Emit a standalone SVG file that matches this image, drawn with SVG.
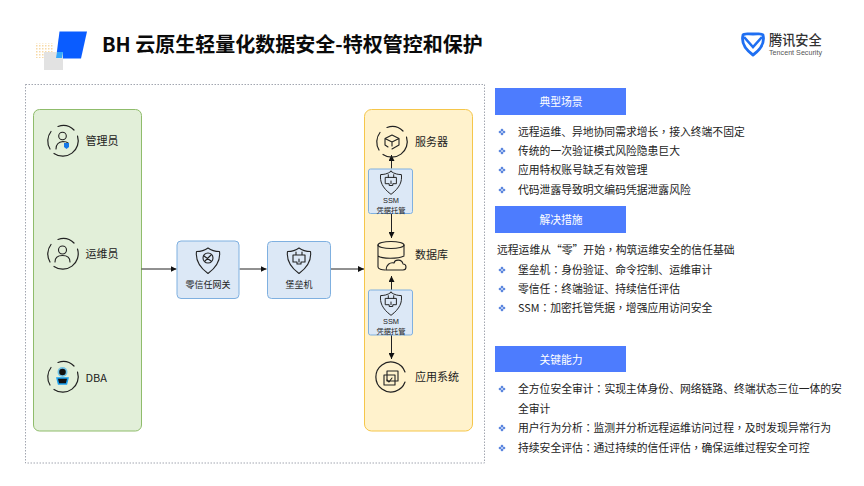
<svg xmlns="http://www.w3.org/2000/svg" width="864" height="486" viewBox="0 0 864 486">
<style>
text{font-family:"Noto Sans CJK SC","Noto Sans",sans-serif;fill:#222}
.n{font-size:11px;fill:#222}
.l{font-size:10.8px;fill:#222}
.p{font-family:"Noto Sans CJK TC",sans-serif}
.h{font-size:10.8px;fill:#fff;text-anchor:middle}
.s{font-size:7.300px;text-anchor:middle;fill:#222}
.sl{font-family:"Liberation Sans",sans-serif;font-size:7.400px;text-anchor:middle;fill:#222}
.b{font-size:9px;text-anchor:middle;fill:#222}
.hd{fill:#4d7cfe}
.box{fill:#dce8f6;stroke:#7fb0e0;stroke-width:1}
.ic{fill:none;stroke:#222;stroke-width:1.1;stroke-linecap:round;stroke-linejoin:round}
.ri{fill:none;stroke:#222;stroke-width:1.2;stroke-linecap:round}
.cn{fill:none;stroke:#222;stroke-width:1}
.bl{fill:#4d7cdc}
</style>
<defs>
<marker id="a" markerWidth="7" markerHeight="6" refX="6" refY="3" orient="auto" markerUnits="userSpaceOnUse"><path d="M0 0L6 3L0 6Z" fill="#111"/></marker>
<pattern id="dots" width="3" height="3" patternUnits="userSpaceOnUse"><rect width="1.500" height="1.500" fill="#f7d9a6"/></pattern>
<g id="shield"><path class="ic" d="M0 -14C4 -11 8 -10.500 11.500 -10.500C12.500 -3 10 4 0 11.500C-10 4 -12.500 -3 -11.500 -10.500C-8 -10.500 -4 -11 0 -14Z"/></g>
<g id="plug"><path class="ic" d="M-6 -4H6V3H2V5H-2V3H-6ZM-3 -4V-7M3 -4V-7M0 0V3"/></g>
<g id="dm"><path class="bl" d="M0 -3.500L1.600 -1.900L0 -0.300L-1.600 -1.900ZM-2 -1.500L-0.400 0L-2 1.600L-3.600 0ZM2 -1.500L3.600 0L2 1.600L0.400 0ZM0 0.300L1.600 1.900L0 3.500L-1.600 1.900Z"/></g>
<path id="ring" class="ri" d="M-5 -14.500A15.500 15.500 0 0 1 11 -11M14.500 -5A15.500 15.500 0 0 1 -9 12.500M-13 8A15.500 15.500 0 0 1 -12 -9.500"/>
</defs>

<g id="logo-left">
<rect x="36" y="43" width="17" height="15" fill="url(#dots)"/>
<path d="M59.500 31.500H87L81 58.500H56Z" fill="#0a5cff"/>
<rect x="44" y="52" width="19" height="18" fill="#e2e2e2"/>
<path d="M57 52H63L62 58H56Z" fill="#35a8fb"/>
</g>
<text id="title" x="102" y="52" style="font-size:20px;font-weight:700;fill:#0a0a0a">BH 云原生轻量化数据安全-特权管控和保护</text>

<g id="logo-right">
<path d="M753 34C747 34 744 33 743 35C741 43 746 50 753 55C760 50 765 43 763 35C762 33 759 34 753 34Z" fill="none" stroke="#1f6ff2" stroke-width="2.800" stroke-linejoin="round"/>
<path d="M744 37L753 47L762 37" fill="none" stroke="#1f6ff2" stroke-width="2.600"/>
<text x="769" y="44.500" style="font-size:13.200px;font-weight:500;fill:#333">腾讯安全</text>
<text x="769" y="55" textLength="53" lengthAdjust="spacingAndGlyphs" style="font-family:'Liberation Sans',sans-serif;font-size:7.400px;fill:#555">Tencent Security</text>
</g>

<rect id="frame" x="25.500" y="84.500" width="459" height="378.500" fill="#fff" stroke="#8a8f9c" stroke-width="0.800" stroke-dasharray="1.500 1.500"/>

<g id="actors">
<rect x="33.500" y="109.500" width="108" height="321.500" rx="6" fill="#e2efd9" stroke="#8fbc6b" stroke-width="1"/>
</g>
<g id="systems">
<rect x="364.500" y="109.500" width="108" height="321.500" rx="7" fill="#fff2cc" stroke="#f5c64a" stroke-width="1"/>
</g>

<g id="connectors">
<path class="cn" d="M141.500 269H176.500" marker-end="url(#a)"/>
<path class="cn" d="M239.500 269H266.500" marker-end="url(#a)"/>
<path class="cn" d="M330.500 269H364" marker-end="url(#a)"/>
<path class="cn" d="M391.500 168.500V155" marker-end="url(#a)"/>
<path class="cn" d="M391.500 214V238" marker-end="url(#a)"/>
<path class="cn" d="M391.500 290V276" marker-end="url(#a)"/>
<path class="cn" d="M391.500 335V359" marker-end="url(#a)"/>
</g>

<g id="admin">
<use href="#ring" x="63" y="141"/>
<circle class="ic" cx="62.500" cy="136" r="3.800"/>
<path class="ic" d="M56 149C56 144 58 142 63 141.500C66 141.500 67 142 68 143"/>
<path d="M64 143H69V147L66.500 149L64 147Z" fill="#1478e8"/>
<text class="n" x="85.500" y="145">管理员</text>
</g>
<g id="ops">
<use href="#ring" x="63" y="254"/>
<circle class="ic" cx="62.500" cy="250" r="4"/>
<path class="ic" d="M55 262C55 257 58 255.500 62.500 255.500C67 255.500 70 257 70 262"/>
<text class="n" x="85.500" y="258">运维员</text>
</g>
<g id="dba">
<use href="#ring" x="63" y="377"/>
<circle cx="62.500" cy="372" r="5" fill="#19a0f0" opacity=".55"/>
<circle cx="62.500" cy="372" r="3.300" fill="#111"/>
<path d="M57 378H68L66.500 384H58.500Z" fill="#111" stroke="#19a0f0" stroke-width="1.500"/>
<text class="n" x="85.500" y="382">DBA</text>
</g>

<g id="ztna">
<rect class="box" x="177" y="241" width="62" height="57.500" rx="4"/>
<use href="#shield" x="208" y="262"/>
<circle class="ic" cx="208" cy="258" r="5"/>
<path class="ic" d="M204 256L211 261M205 261L211 255"/>
<text class="b" x="208" y="287.500">零信任网关</text>
</g>
<g id="bastion">
<rect class="box" x="267.500" y="241.500" width="63" height="57" rx="4"/>
<use href="#shield" x="299" y="262"/>
<use href="#plug" x="299" y="259"/>
<text class="b" x="299" y="287.500">堡垒机</text>
</g>

<g id="server">
<use href="#ring" x="392" y="142"/>
<path class="ic" d="M392 135L399 138.500V145L392 149M392 135L385 138.500V145L388 147M385 138.500L392 142L399 138.500M392 142V146"/>
<text class="n" x="415" y="146">服务器</text>
</g>
<g id="ssm1">
<rect class="box" x="368.500" y="169" width="44" height="44.500" rx="2"/>
<use href="#shield" transform="translate(391 184) scale(.9)"/>
<use href="#plug" transform="translate(391 181) scale(.9)"/>
<text class="sl" x="391" y="203">SSM</text>
<text class="s" x="391" y="212.800">凭据托管</text>
</g>
<g id="db">
<ellipse class="ic" cx="391" cy="245" rx="13" ry="3.500"/>
<path class="ic" d="M378 245V267C378 269 382 270 385 270M404 245V255M378 256C382 259 398 259 404 256"/>
<path class="ic" d="M386 270H403C407 270 407 264 403 264C402 259 395 259 394 263C390 262 386 265 386 270Z" fill="#fff2cc"/>
<text class="n" x="415" y="258.500">数据库</text>
</g>
<g id="ssm2">
<rect class="box" x="368.500" y="290" width="44" height="45" rx="2"/>
<use href="#shield" transform="translate(391 305) scale(.9)"/>
<use href="#plug" transform="translate(391 302) scale(.9)"/>
<text class="sl" x="391" y="324">SSM</text>
<text class="s" x="391" y="333.800">凭据托管</text>
</g>
<g id="app">
<path class="ri" d="M405 372A15 15 0 1 0 405 382"/>
<rect class="ic" x="387" y="371" width="11" height="10"/>
<rect class="ic" x="384" y="375" width="11" height="10" fill="#fff2cc"/>
<path class="ic" d="M387 380L389 382L392 378"/>
<text class="n" x="415" y="381">应用系统</text>
</g>

<g id="panel-scenes">
<rect class="hd" x="495" y="88" width="131" height="27"/>
<text class="h" x="561" y="105.500">典型场景</text>
<use href="#dm" x="502" y="132"/><text class="l" x="518" y="136">远程运维、异地协同需求增长<tspan class="p">，</tspan>接入终端不固定</text>
<use href="#dm" x="502" y="151"/><text class="l" x="518" y="155">传统的一次验证模式风险隐患巨大</text>
<use href="#dm" x="502" y="170"/><text class="l" x="518" y="174">应用特权账号缺乏有效管理</text>
<use href="#dm" x="502" y="190"/><text class="l" x="518" y="194">代码泄露导致明文编码凭据泄露风险</text>
</g>
<g id="panel-measures">
<rect class="hd" x="495" y="206" width="131" height="27"/>
<text class="h" x="561" y="224">解决措施</text>
<text class="l" x="497" y="254">远程运维从“零”开始<tspan class="p">，</tspan>构筑运维安全的信任基础</text>
<use href="#dm" x="502" y="270"/><text class="l" x="518" y="274">堡垒机<tspan class="p">：</tspan>身份验证、命令控制、运维审计</text>
<use href="#dm" x="502" y="289"/><text class="l" x="518" y="293">零信任<tspan class="p">：</tspan>终端验证、持续信任评估</text>
<use href="#dm" x="502" y="308"/><text class="l" x="518" y="312">SSM<tspan class="p">：</tspan>加密托管凭据<tspan class="p">，</tspan>增强应用访问安全</text>
</g>
<g id="panel-capabilities">
<rect class="hd" x="495" y="346" width="131" height="26"/>
<text class="h" x="561" y="364">关键能力</text>
<use href="#dm" x="502" y="389"/><text class="l" x="518" y="393">全方位安全审计<tspan class="p">：</tspan>实现主体身份、网络链路、终端状态三位一体的安</text>
<text class="l" x="518" y="413">全审计</text>
<use href="#dm" x="502" y="428"/><text class="l" x="518" y="432">用户行为分析<tspan class="p">：</tspan>监测并分析远程运维访问过程<tspan class="p">，</tspan>及时发现异常行为</text>
<use href="#dm" x="502" y="448"/><text class="l" x="518" y="452">持续安全评估<tspan class="p">：</tspan>通过持续的信任评估<tspan class="p">，</tspan>确保运维过程安全可控</text>
</g>
</svg>
